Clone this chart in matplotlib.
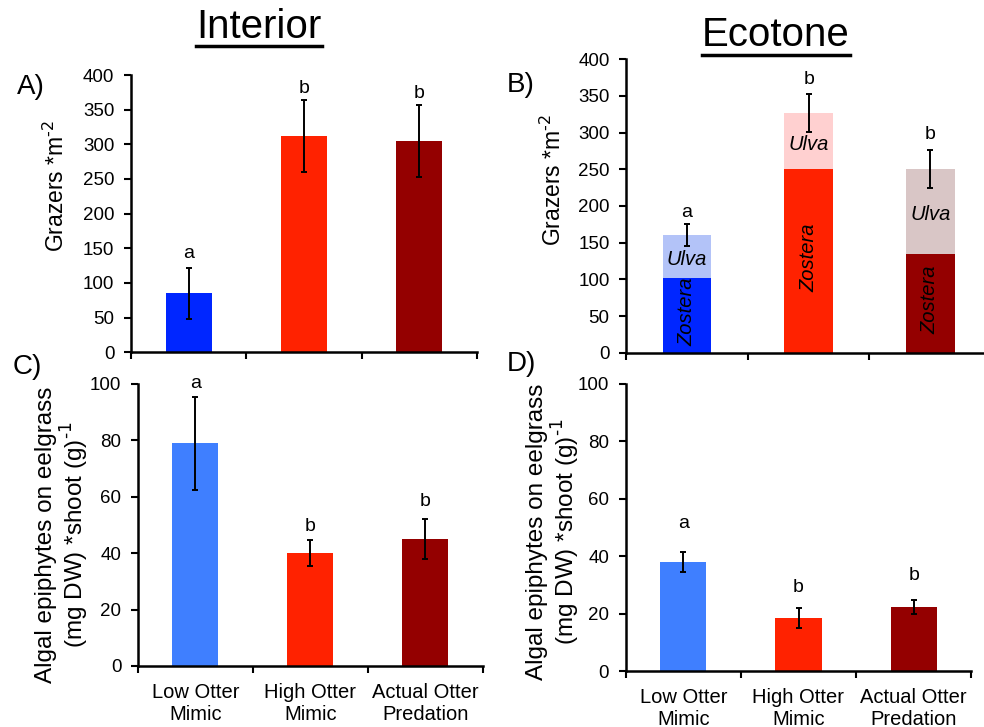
import numpy as np
import matplotlib
matplotlib.use("Agg")
import matplotlib.pyplot as plt

plt.rcParams['font.family'] = ['Liberation Sans', 'DejaVu Sans']

treatments = ["Low Otter\nMimic", "High Otter\nMimic", "Actual Otter\nPredation"]

# A) interior grazers
grazers_int = [85, 312, 305]
grazers_int_se = [37, 52, 52]
grazers_int_letters = ["a", "b", "b"]
grazers_int_letter_y = [143, 381, 374]

# B) ecotone grazers, split by host plant
zostera_eco = [102, 250, 134]
ulva_eco = [58.5, 76.5, 116]
grazers_eco_se = [14.5, 26, 26]
grazers_eco_letters = ["a", "b", "b"]
grazers_eco_letter_y = [191, 372, 297]

# C) interior epiphytes
epi_int = [79, 40, 45]
epi_int_se = [16.5, 4.6, 7.2]
epi_int_letters = ["a", "b", "b"]
epi_int_letter_y = [100, 49.6, 58.4]

# D) ecotone epiphytes
epi_eco = [37.9, 18.4, 22.2]
epi_eco_se = [3.5, 3.5, 2.5]
epi_eco_letters = ["a", "b", "b"]
epi_eco_letter_y = [51.5, 29, 33.4]

col_top = ['#0026ff', '#ff2200', '#940000']
col_bottom = ['#3f7fff', '#ff2200', '#940000']
col_ulva = ['#b3c3f8', '#ffd0d0', '#d9c6c6']

W, H = 984, 727
fig = plt.figure(figsize=(W / 100, H / 100), dpi=100)


def px_axes(left, top, right, bottom):
    return fig.add_axes([left / W, 1 - bottom / H, (right - left) / W, (bottom - top) / H])


def style(ax, ymax, step, labels):
    x = np.arange(3) + 0.5
    ax.set_xlim(0, 3)
    ax.set_ylim(0, ymax)
    ax.set_yticks(np.arange(0, ymax + 1, step))
    ax.set_xticks([0, 1, 2, 3])
    ax.set_xticklabels([])
    ax.set_xticks(x, minor=True)
    if labels:
        ax.set_xticklabels(treatments, minor=True, fontsize=14.5, linespacing=1.25)
    ax.tick_params(axis='x', which='minor', length=0, pad=12)
    ax.tick_params(axis='x', which='major', length=5, width=1.5, direction='out')
    ax.tick_params(axis='y', length=5, width=1.5, direction='out', labelsize=13.5, pad=7)
    for s in ['top', 'right']:
        ax.spines[s].set_visible(False)
    for s in ['left', 'bottom']:
        ax.spines[s].set_linewidth(1.8)
    return x


def letters(ax, x, ys, txt):
    for xi, yi, t in zip(x, ys, txt):
        ax.text(xi, yi, t, ha='center', va='center', fontsize=14)


ekw = dict(ecolor='black', elinewidth=1.4, capsize=2.5, capthick=1.4)

# A
axA = px_axes(131, 75, 477, 352.3)
x = style(axA, 400, 50, False)
axA.bar(x, grazers_int, 0.4, color=col_top, yerr=grazers_int_se, error_kw=ekw)
letters(axA, x, grazers_int_letter_y, grazers_int_letters)

# B
axB = px_axes(626.3, 59.3, 991, 352.7)
x = style(axB, 400, 50, False)
axB.bar(x, zostera_eco, 0.4, color=col_top)
axB.bar(x, ulva_eco, 0.4, bottom=zostera_eco, color=col_ulva)
tot = np.array(zostera_eco) + np.array(ulva_eco)
axB.errorbar(x, tot, yerr=grazers_eco_se, fmt='none', **ekw)
letters(axB, x, grazers_eco_letter_y, grazers_eco_letters)
for xi, z, u in zip(x, zostera_eco, ulva_eco):
    axB.text(xi, z / 2 + 5, "Zostera", rotation=90, ha='center', va='center',
             fontsize=14.5, style='italic')
    axB.text(xi, z + u / 2 - 4, "Ulva", ha='center', va='center',
             fontsize=14.5, style='italic')

# C
axC = px_axes(138, 384, 482.7, 666)
x = style(axC, 100, 20, True)
axC.bar(x, epi_int, 0.4, color=col_bottom, yerr=epi_int_se, error_kw=ekw)
letters(axC, x, epi_int_letter_y, epi_int_letters)

# D
axD = px_axes(625.7, 384, 971.3, 671)
x = style(axD, 100, 20, True)
axD.bar(x, epi_eco, 0.4, color=col_bottom, yerr=epi_eco_se, error_kw=ekw)
letters(axD, x, epi_eco_letter_y, epi_eco_letters)


def ftext(xp, yp, s, **kw):
    fig.text(xp / W, 1 - yp / H, s, **kw)


# axis titles
graz_label = r"Grazers *m$^{\text{-2}}$"
ftext(56, 186, graz_label, rotation=90, ha='center', va='center', fontsize=16.5)
ftext(553, 180, graz_label, rotation=90, ha='center', va='center', fontsize=16.5)
epi_label = "Algal epiphytes on eelgrass\n" + r"(mg DW) *shoot (g)$^{\text{-1}}$"
ftext(63, 535, epi_label, rotation=90, ha='center', va='center', fontsize=17.5, linespacing=1.1)
ftext(554, 532, epi_label, rotation=90, ha='center', va='center', fontsize=17.5, linespacing=1.1)

# panel letters
ftext(31, 87, "A)", ha='center', va='center', fontsize=20)
ftext(521, 85, "B)", ha='center', va='center', fontsize=20)
ftext(27, 367, "C)", ha='center', va='center', fontsize=20)
ftext(521, 364, "D)", ha='center', va='center', fontsize=20)

# column headings, underlined
ftext(259, 27, "Interior", ha='center', va='center', fontsize=29)
ftext(776, 35, "Ecotone", ha='center', va='center', fontsize=29)
fig.add_artist(plt.Line2D([196 / W, 322 / W], [1 - 46 / H, 1 - 46 / H], color='black', lw=2.5))
fig.add_artist(plt.Line2D([702 / W, 850 / W], [1 - 55 / H, 1 - 55 / H], color='black', lw=2.5))

fig.savefig("out.png", dpi=100)
